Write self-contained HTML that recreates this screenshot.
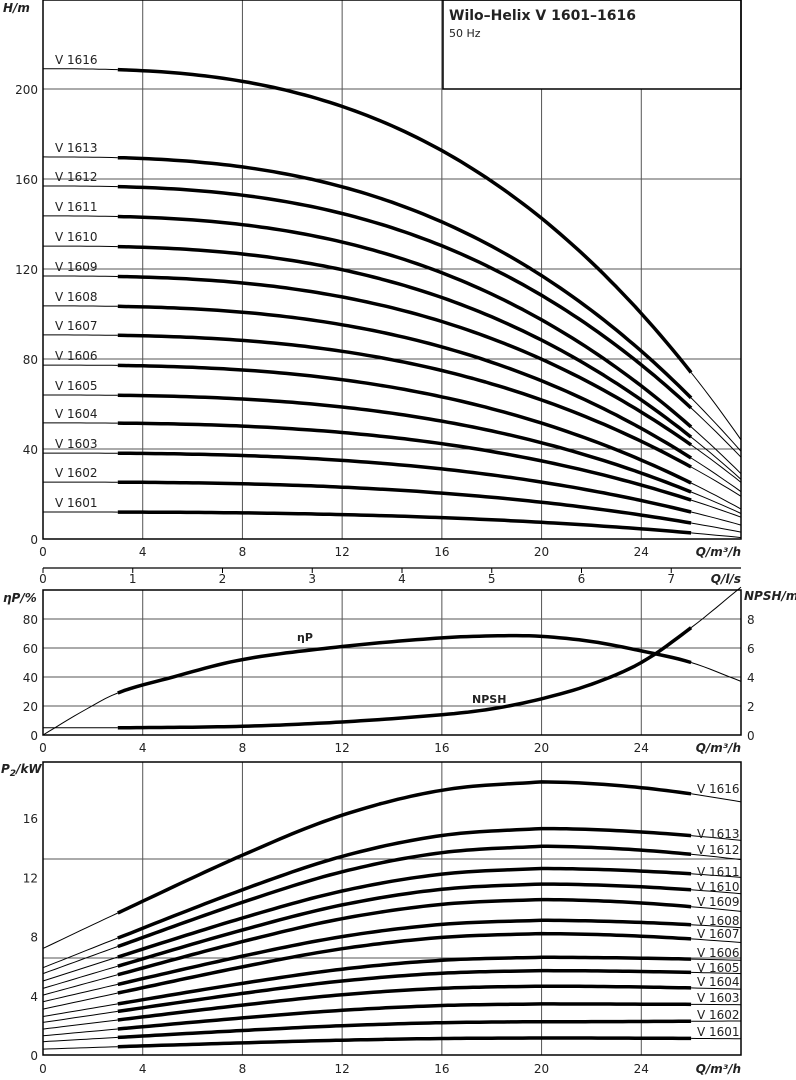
<!DOCTYPE html>
<html><head><meta charset="utf-8"><style>
body{margin:0;background:#fff}
svg{display:block;font-family:"DejaVu Sans","Liberation Sans",sans-serif}
</style></head><body>
<svg id="s" width="796" height="1080" viewBox="0 0 796 1080" xmlns="http://www.w3.org/2000/svg"></svg>
<script>
const S=document.getElementById('s');let out='';
const X=q=>43+q*(698/28);
function L(x1,y1,x2,y2,w,c){out+=`<line x1="${x1}" y1="${y1}" x2="${x2}" y2="${y2}" stroke="${c||'#000'}" stroke-width="${w||1}"/>`;}
function T(x,y,t,o){o=o||{};out+=`<text x="${x}" y="${y}" font-size="${o.fs||12}" text-anchor="${o.a||'start'}" font-weight="${o.b?'bold':'normal'}" font-style="${o.i?'italic':'normal'}" fill="#222">${t}</text>`;}
function P(pts,w){out+=`<polyline fill="none" stroke="#000" stroke-width="${w}" stroke-linejoin="round" stroke-linecap="butt" points="${pts.map(p=>p[0].toFixed(1)+','+p[1].toFixed(1)).join(' ')}"/>`;}
function curve(f,yf){const a=[],b=[],c=[];for(let q=0;q<=28.001;q+=0.25){const p=[X(q),yf(f(q))];if(q<=3)a.push(p);if(q>=3&&q<=26)b.push(p);if(q>=26)c.push(p);}P(a,1);P(b,3.5);P(c,1);}
function interp(tab,q){for(let i=0;i<tab.length-1;i++){const [q0,v0]=tab[i],[q1,v1]=tab[i+1];if(q<=q1){const m0=i>0?(v1-tab[i-1][1])/(q1-tab[i-1][0]):(v1-v0)/(q1-q0);const m1=i<tab.length-2?(tab[i+2][1]-v0)/(tab[i+2][0]-q0):(v1-v0)/(q1-q0);const h=q1-q0,t=(q-q0)/h,t2=t*t,t3=t2*t;return (2*t3-3*t2+1)*v0+(t3-2*t2+t)*h*m0+(-2*t3+3*t2)*v1+(t3-t2)*h*m1;}}return tab[tab.length-1][1];}
// ===== TOP CHART =====
for(let q=4;q<28;q+=4)L(X(q),0,X(q),539,1,'#555');
[89,179,269,359,449].forEach(y=>L(43,y,741,y,1,'#555'));
out+=`<rect x="443" y="0" width="298" height="89" fill="#fff" stroke="#000" stroke-width="1.5"/>`;
T(449,20,'Wilo–Helix V 1601–1616',{fs:14,b:1});T(449,37,'50 Hz',{fs:11});
const names=['1616','1613','1612','1611','1610','1609','1608','1607','1606','1605','1604','1603','1602','1601'];
const yH=h=>539-h*2.25;
const H0=[209,169.8,156.9,143.6,130.2,116.9,103.6,90.7,77.3,64,51.6,38.2,25.3,12];
const H26=[74,62.7,58.2,49.8,45.3,41.8,36,32,24.9,20.9,17.3,12,7.1,2.7];
names.forEach((n,i)=>{const A=H0[i]-H26[i];curve(q=>H0[i]-A*Math.pow(q/26,2.7),yH);T(55,yH(H0[i])-5,'V '+n,{fs:12});});
out+=`<rect x="43" y="0" width="698" height="539" fill="none" stroke="#000" stroke-width="1.5"/>`;
[0,40,80,120,160,200].forEach(v=>T(38,yH(v)+5,v,{a:'end'}));
T(3,12,'H/m',{b:1,i:1,fs:12});
for(let q=0;q<=24;q+=4)T(X(q),556,q,{a:'middle'});T(741,556,'Q/m³/h',{a:'end',b:1,i:1});
L(43,568,741,568,1.2);for(let k=0;k<=7;k++){const x=43+89.75*k;L(x,568,x,573,1);T(x,583,k,{a:'middle'});}
T(741,583,'Q/l/s',{a:'end',b:1,i:1});
// ===== MIDDLE =====
const yE=e=>735-e*1.45, yN=n=>735-n*14.5;
for(let q=4;q<28;q+=4)L(X(q),590,X(q),735,1,'#555');
[20,40,60,80].forEach(v=>L(43,yE(v),741,yE(v),1,'#555'));
const eta=[[0,0],[1.5,15.5],[3,29],[5,39],[8,52],[12,61],[16,67],[18.5,68.5],[20,68],[22,64.5],[24,58],[26,50],[28,37]];
curve(q=>interp(eta,q),yE);
const np=[[0,0.5],[3,0.5],[8,0.6],[12,0.9],[16,1.4],[18,1.8],[20,2.5],[22,3.5],[24,5.0],[26,7.4],[28,10.2]];
curve(q=>interp(np,q),yN);
out+=`<rect x="43" y="590" width="698" height="145" fill="none" stroke="#000" stroke-width="1.5"/>`;
[0,20,40,60,80].forEach(v=>T(38,yE(v)+5,v,{a:'end'}));
[0,2,4,6,8].forEach(v=>T(747,yN(v)+5,v));
T(3,602,'ηP/%',{b:1,i:1});T(744,600,'NPSH/m',{b:1,i:1});
T(297,641,'ηP',{b:1,fs:11});T(472,703,'NPSH',{b:1,fs:11});
for(let q=0;q<=24;q+=4)T(X(q),752,q,{a:'middle'});T(741,752,'Q/m³/h',{a:'end',b:1,i:1});
// ===== BOTTOM =====
const yP=p=>1055-p*14.8;
for(let q=4;q<28;q+=4)L(X(q),762,X(q),1055,1,'#555');
[859,958].forEach(y=>L(43,y,741,y,1,'#555'));
const P0=[7.2,5.9,5.5,5.0,4.5,4.05,3.6,3.1,2.6,2.2,1.75,1.3,0.9,0.4];
const P20=[18.45,15.3,14.1,12.6,11.55,10.5,9.1,8.2,6.6,5.7,4.65,3.45,2.25,1.15];
const P28=[17.1,14.5,13.2,12,10.9,9.7,8.6,7.6,6.4,5.5,4.45,3.4,2.3,1.1];
const tt=[[0,0],[3,0.213],[8,0.56],[12,0.8],[16,0.95],[20,1],[21,1]];
const ly=[789,834,850,872,887,902,921,934,953,968,982,998,1015,1032];
names.forEach((n,i)=>{curve(q=>q<=20?P0[i]+(P20[i]-P0[i])*interp(tt,q):P20[i]+(P28[i]-P20[i])*Math.pow((q-20)/8,1.8),yP);T(697,ly[i]+4,'V '+n,{fs:12});});
out+=`<rect x="43" y="762" width="698" height="293" fill="none" stroke="#000" stroke-width="1.5"/>`;
[0,4,8,12,16].forEach(v=>T(38,yP(v)+5,v,{a:'end'}));
T(1,773,'P<tspan font-size="9" dy="3">2</tspan><tspan dy="-3">/kW</tspan>',{b:1,i:1});
for(let q=0;q<=24;q+=4)T(X(q),1073,q,{a:'middle'});T(741,1073,'Q/m³/h',{a:'end',b:1,i:1});
S.innerHTML=out;
</script>
</body></html>
